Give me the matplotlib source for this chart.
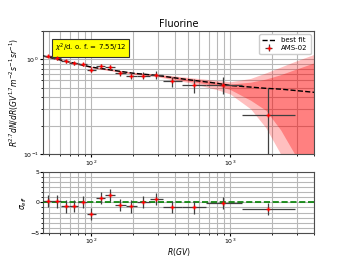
import numpy as np
import matplotlib
matplotlib.use("Agg")
import matplotlib.pyplot as plt
from matplotlib.ticker import MultipleLocator

# AMS-02 fluorine data (R^2.7 weighted flux), bins
bin_edges = [45.1, 52.2, 60.3, 69.7, 80.5, 93.6, 108, 125, 148, 178, 212, 265,
             330, 447, 665, 1208, 2920]
rigidity = [49.1, 56.4, 65.5, 75.1, 86.7, 100, 117, 136, 161, 193, 234, 293,
            383, 545, 891, 1877]
flux = [1.08, 1.025, 0.953, 0.913, 0.891, 0.769, 0.849, 0.828, 0.710, 0.664,
        0.676, 0.688, 0.587, 0.533, 0.542, 0.260]
flux_err = [0.03, 0.03, 0.03, 0.03, 0.035, 0.04, 0.04, 0.045, 0.045, 0.05,
            0.055, 0.065, 0.07, 0.09, 0.11, 0.24]

# residuals in units of sigma
sigma_eff = [0.21, 0.16, -0.66, -0.60, 0.05, -1.87, 0.75, 1.15, -0.39, -0.66,
             0.10, 0.54, -0.72, -0.82, -0.16, -1.05]

# best fit curve and uncertainty bands
fit_r = [45, 100, 200, 300, 500, 800, 1000, 1400, 1800, 2300, 2900, 4000]
fit_val = [1.09, 0.83, 0.715, 0.676, 0.61, 0.56, 0.53, 0.51, 0.495, 0.485, 0.47, 0.449]
band1_hi = [1.10, 0.84, 0.725, 0.69, 0.63, 0.575, 0.55, 0.575, 0.62, 0.69, 0.78, 0.92]
band1_lo = [1.08, 0.82, 0.705, 0.665, 0.59, 0.53, 0.48, 0.37, 0.29, 0.18, 0.10, 0.03]
band2_hi = [1.10, 0.845, 0.73, 0.70, 0.645, 0.60, 0.58, 0.63, 0.72, 0.83, 0.95, 1.13]
band2_lo = [1.08, 0.815, 0.70, 0.655, 0.57, 0.48, 0.43, 0.30, 0.19, 0.10, 0.05, 0.02]

chi2_text = r"$\chi^2$/d. o. f. = 7.55/12"

edges = np.array(bin_edges)
r = np.array(rigidity)
xerr = [r - edges[:-1], edges[1:] - r]

fig = plt.figure(figsize=(3.49, 2.62), dpi=100)
ax = fig.add_axes([0.123, 0.412, 0.777, 0.470])
ax2 = fig.add_axes([0.123, 0.111, 0.777, 0.233])

grid_kw = dict(color="0.72", lw=0.8)

# top panel
ax.fill_between(fit_r, band2_lo, band2_hi, color="red", alpha=0.25, lw=0, zorder=1)
ax.fill_between(fit_r, band1_lo, band1_hi, color="red", alpha=0.33, lw=0, zorder=1)
ax.plot(fit_r, fit_val, "k--", lw=1.0, label="best fit", zorder=3)
ax.errorbar(r, flux, yerr=flux_err, xerr=xerr, fmt="+", color="red", ms=3,
            mew=1.0, ecolor="0.25", elinewidth=0.9, label="AMS-02", zorder=4)
ax.set_xscale("log")
ax.set_yscale("log")
ax.set_xlim(45, 4000)
ax.set_ylim(0.1, 2.0)
ax.grid(True, which="both", **grid_kw)
ax.set_axisbelow(True)
ax.set_title("Fluorine", fontsize=7, pad=3)
ax.set_ylabel(r"$R^{2.7}dN/dR(GV^{1.7}m^{-2}s^{-1}sr^{-1})$", fontsize=5.5, labelpad=1)
ax.tick_params(labelsize=4.5, length=2, pad=1)
ax.tick_params(which="minor", length=1.2)
ax.text(0.045, 0.91, chi2_text, transform=ax.transAxes, fontsize=5, va="top",
        bbox=dict(facecolor="yellow", edgecolor="0.2", boxstyle="square,pad=0.4", lw=0.8))
ax.legend(loc="upper right", fontsize=5, handlelength=2, borderpad=0.4,
          labelspacing=0.3, framealpha=1.0)

# bottom panel
ax2.errorbar(r, sigma_eff, yerr=1.0, xerr=xerr, fmt="+", color="red", ms=3,
             mew=1.0, ecolor="0.25", elinewidth=0.9, zorder=4)
ax2.axhline(0, color="green", ls="--", lw=1.2, zorder=3)
ax2.set_xscale("log")
ax2.set_xlim(45, 4000)
ax2.set_ylim(-5, 5)
ax2.yaxis.set_major_locator(MultipleLocator(5))
ax2.yaxis.set_minor_locator(MultipleLocator(5 / 6))
ax2.grid(True, which="both", **grid_kw)
ax2.set_axisbelow(True)
ax2.set_ylabel(r"$\sigma_{eff}$", fontsize=5.5, labelpad=1)
ax2.set_xlabel(r"$R(GV)$", fontsize=5.5, labelpad=0)
ax2.tick_params(labelsize=4.5, length=2, pad=0.5)
ax2.tick_params(which="minor", length=1.2)

for a in (ax, ax2):
    for s in a.spines.values():
        s.set_color("0.3")

fig.savefig("out.png", dpi=100)
